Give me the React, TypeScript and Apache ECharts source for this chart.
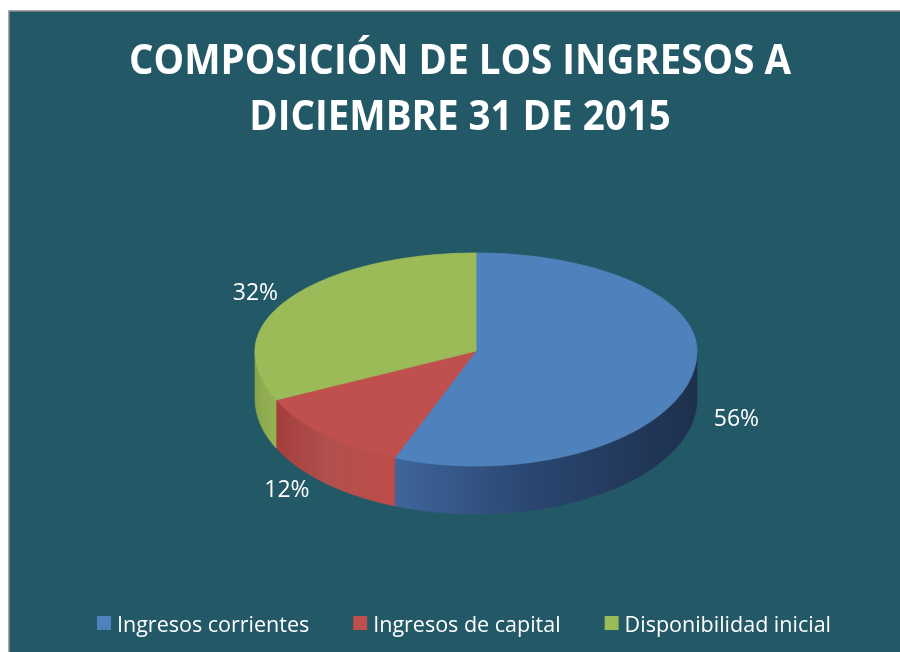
import React, { useEffect, useRef } from "react";
import * as echarts from "echarts";

const categories = ["Ingresos corrientes", "Ingresos de capital", "Disponibilidad inicial"];
const values = [56, 12, 32];
const topColors = ["#4f81bd", "#c0504d", "#9bbb59"];
const sideColors = [
  ["#3f659b", "#2a4670", "#1d304d"],
  ["#a33e3c", "#b2504d", "#bd4c49"],
  ["#86a34a", "#8fad4f", "#94b254"],
];
const titleLines = ["COMPOSICIÓN DE LOS INGRESOS A", "DICIEMBRE 31 DE 2015"];

export default function App() {
  const ref = useRef<HTMLDivElement>(null);
  useEffect(() => {
    const chart = echarts.init(ref.current!, null, { renderer: "svg" });
    const total = values.reduce((a, b) => a + b, 0);
    const starts: number[] = [];
    let acc = 0;
    for (const v of values) {
      starts.push((acc / total) * 360);
      acc += v;
    }
    const CX = 476, CY = 351, RX = 221, RYB = 98, RYF = 115, DEPTH = 48;
    const pt = (deg: number, dy = 0) => {
      const r = (deg * Math.PI) / 180;
      const c = Math.cos(r);
      const ry = c > 0 ? RYB : RYF;
      return [CX + RX * Math.sin(r), CY - ry * c + dy];
    };
    const arc = (a0: number, a1: number, dy: number) => {
      const pts: number[][] = [];
      const n = Math.max(2, Math.ceil(a1 - a0));
      for (let k = 0; k <= n; k++) pts.push(pt(a0 + ((a1 - a0) * k) / n, dy));
      return pts;
    };

    const series = categories.map((name, i) => ({
      type: "custom",
      name,
      coordinateSystem: "none",
      data: [[values[i]]],
      itemStyle: { color: topColors[i] },
      renderItem: (params: any, api: any) => {
        const v = api.value(0);
        const a0 = starts[i];
        const a1 = a0 + (v / total) * 360;
        const children: any[] = [];
        const s0 = Math.max(a0, 90), s1 = Math.min(a1, 270);
        if (s1 > s0) {
          const top = arc(s0, s1, 0);
          const bot = arc(s0, s1, DEPTH).reverse();
          const grad = new echarts.graphic.LinearGradient(0, 0, 1, 0, [
            { offset: 0, color: sideColors[i][0] },
            { offset: 0.45, color: sideColors[i][1] },
            { offset: 1, color: sideColors[i][2] },
          ]);
          children.push({
            type: "polygon",
            shape: { points: [...top, ...bot] },
            style: { fill: grad, stroke: grad, lineWidth: 0.6 },
          });
        }
        children.push({
          type: "polygon",
          shape: { points: [[CX, CY], ...arc(a0, a1, 0)] },
          style: { fill: topColors[i], stroke: topColors[i], lineWidth: 0.8 },
        });
        const mid = (((a0 + a1) / 2) * Math.PI) / 180;
        const s = Math.sin(mid), c = Math.cos(mid);
        const ry = c > 0 ? RYB : RYF;
        const lx = CX + RX * (1.15 + 0.12 * Math.max(0, -c) * Math.abs(s)) * s + Math.sign(s) * 6;
        const ly = CY - ry * 1.15 * c + (c < 0 ? DEPTH * 0.85 : 0);
        children.push({
          type: "text",
          x: lx,
          y: ly,
          style: {
            text: Math.round((v / total) * 100) + "%",
            fill: "#ffffff",
            fontSize: 23,
            fontFamily: "Open Sans",
            align: "center",
            verticalAlign: "middle",
          },
        });
        return { type: "group", children };
      },
    }));

    chart.setOption({
      animation: false,
      color: topColors,
      graphic: [
        {
          type: "rect",
          z: -10,
          shape: { x: 9, y: 11, width: 920, height: 700 },
          style: { fill: "#235866", stroke: "#8a8a8a", lineWidth: 1.5 },
          silent: true,
        },
        ...titleLines.map((t, k) => ({
          type: "text",
          x: 460,
          y: 58 + k * 56,
          scaleX: 0.94,
          style: {
            text: t,
            fill: "#ffffff",
            fontSize: 41,
            fontWeight: "bold",
            fontFamily: "Open Sans",
            align: "center",
            verticalAlign: "middle",
          },
        })),
      ],
      legend: {
        left: 92,
        top: 607,
        icon: "rect",
        itemWidth: 14,
        itemHeight: 14,
        itemGap: 44,
        data: categories,
        textStyle: { color: "#ffffff", fontSize: 21.5, fontFamily: "Open Sans", padding: [0, 0, 0, 1] },
      },
      series,
    });
    return () => chart.dispose();
  }, []);
  return (
    <div
      ref={ref}
      style={{ position: "fixed", left: 0, top: 0, width: 900, height: 652 }}
    />
  );
}
